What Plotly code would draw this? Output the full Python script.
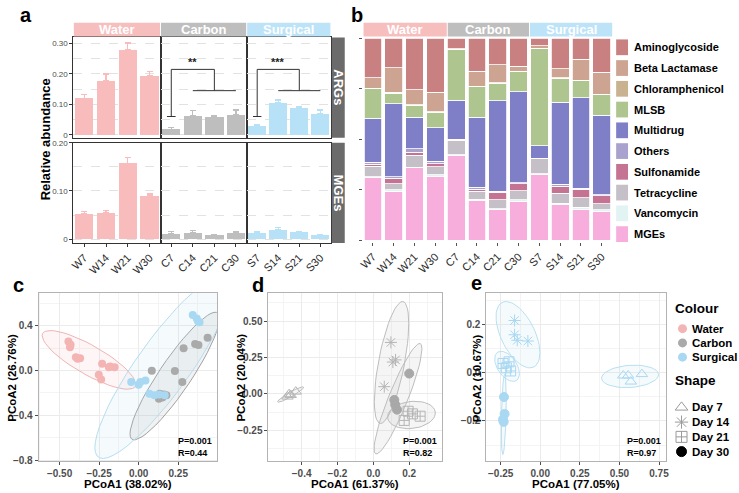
import numpy as np
import plotly.graph_objects as go

W, H = 739, 493
FONT = "Liberation Sans, Arial, sans-serif"

# ---- panel a: relative abundance (mean, upper error) ----
GROUPS = ["Water", "Carbon", "Surgical"]
SAMPLES = {
    "Water": ["W7", "W14", "W21", "W30"],
    "Carbon": ["C7", "C14", "C21", "C30"],
    "Surgical": ["S7", "S14", "S21", "S30"],
}
ARGS_MEAN = {
    "Water": [0.120, 0.178, 0.280, 0.193],
    "Carbon": [0.018, 0.062, 0.060, 0.066],
    "Surgical": [0.030, 0.104, 0.088, 0.068],
}
ARGS_ERR = {
    "Water": [0.013, 0.022, 0.022, 0.015],
    "Carbon": [0.005, 0.017, 0.004, 0.015],
    "Surgical": [0.003, 0.010, 0.005, 0.013],
}
MGES_MEAN = {
    "Water": [0.052, 0.055, 0.157, 0.090],
    "Carbon": [0.011, 0.013, 0.008, 0.013],
    "Surgical": [0.013, 0.020, 0.014, 0.008],
}
MGES_ERR = {
    "Water": [0.005, 0.005, 0.013, 0.004],
    "Carbon": [0.005, 0.005, 0.002, 0.003],
    "Surgical": [0.002, 0.004, 0.002, 0.002],
}
GROUP_COLORS = {"Water": "#F8BCBC", "Carbon": "#BEBEBE", "Surgical": "#B6E1F7"}
STRIP_COLORS = {"Water": "#F7BEBE", "Carbon": "#BEBEBE", "Surgical": "#BDE3F8"}

# ---- panel b: composition (stack order bottom -> top) ----
ALL_SAMPLES = SAMPLES["Water"] + SAMPLES["Carbon"] + SAMPLES["Surgical"]
MGES = [.309, .241, .358, .317, .420, .198, .150, .192, .325, .176, .154, .141]
VANCOMYCIN = [.005, .008, .004, .006, .003, .005, .005, .008, .003, .006, .009, .009]
TETRACYCLINE = [.052, .031, .058, .040, .073, .038, .045, .044, .075, .049, .048, .029]
SULFONAMIDE = [.011, .026, .016, .016, .002, .011, .036, .036, .002, .037, .041, .041]
OTHERS = [.010, .008, .016, .011, .002, .011, .005, .005, .002, .008, .005, .004]
MULTIDRUG = [.218, .361, .158, .168, .194, .347, .450, .450, .061, .407, .450, .394]
MLSB = [.146, .054, .059, .076, .250, .151, .086, .100, .481, .120, .083, .104]
CHLORAMPHENICOL = [.003, .003, .003, .003, .002, .003, .003, .002, .002, .002, .002, .002]
BETA_LACTAMASE = [.051, .122, .073, .095, .002, .073, .090, .025, .012, .044, .106, .109]
AMINOGLYCOSIDE = [.195, .146, .255, .268, .052, .163, .130, .138, .037, .151, .102, .167]
CLASSES = [
    ("MGEs", MGES, "#F7AEDC"),
    ("Vancomycin", VANCOMYCIN, "#E2F3F3"),
    ("Tetracycline", TETRACYCLINE, "#C5C0C8"),
    ("Sulfonamide", SULFONAMIDE, "#C57393"),
    ("Others", OTHERS, "#A9A2CF"),
    ("Multidrug", MULTIDRUG, "#7F7FC8"),
    ("MLSB", MLSB, "#AFC58F"),
    ("Chloramphenicol", CHLORAMPHENICOL, "#C9B28F"),
    ("Beta Lactamase", BETA_LACTAMASE, "#CDA391"),
    ("Aminoglycoside", AMINOGLYCOSIDE, "#C98080"),
]

# ---- panel c: PCoA all groups ----
PC_C = {
    "Water": ([-0.444, -0.434, -0.430, -0.397, -0.370, -0.386, -0.231, -0.252, -0.237, -0.188, -0.152, -0.180],
              [0.258, 0.208, 0.230, 0.119, 0.110, 0.104, 0.060, -0.038, -0.080, 0.030, 0.030, 0.035]),
    "Carbon": ([0.083, 0.284, 0.357, 0.378, 0.436, 0.229, 0.276, 0.133, 0.175, 0.128, 0.150, 0.160],
               [-0.003, 0.199, 0.237, 0.228, 0.293, -0.005, -0.103, -0.207, -0.222, -0.252, -0.240, -0.215]),
    "Surgical": ([0.342, 0.367, 0.385, 0.375, -0.047, 0.000, 0.011, 0.043, 0.068, 0.100, 0.130, 0.165],
                 [0.495, 0.465, 0.430, 0.440, -0.103, -0.127, -0.103, -0.089, -0.207, -0.222, -0.215, -0.222]),
}
PCOA_COLORS = {"Water": "#F4B4B4", "Carbon": "#AAAAAA", "Surgical": "#A9D8F2"}
ELL_LINE = {"Water": "#F0B4B4", "Carbon": "#A0A0A0", "Surgical": "#B5DDF0"}
ELL_FILL = {"Water": "rgba(244,180,180,0.12)", "Carbon": "rgba(170,170,170,0.15)",
            "Surgical": "rgba(169,216,242,0.12)"}

# ---- panels d, e: PCoA by day ----
DAYS = ["Day 7", "Day 14", "Day 21", "Day 30"]
DAY_SYMBOLS = ["triangle-up-open", "asterisk-open", "square-cross-open", "circle"]
PC_D = {
    "Day 7": ([-0.479, -0.461, -0.433, -0.470], [-0.018, -0.007, 0.016, -0.002]),
    "Day 14": ([0.098, 0.109, 0.124, 0.061], [0.354, 0.219, 0.234, 0.050]),
    "Day 21": ([0.172, 0.194, 0.218, 0.261], [-0.182, -0.119, -0.137, -0.153]),
    "Day 30": ([0.200, 0.117, 0.122, 0.132], [0.140, -0.041, -0.074, -0.108]),
}
PC_E = {
    "Day 7": ([0.524, 0.555, 0.572, 0.642], [-0.012, -0.012, -0.037, -0.006]),
    "Day 14": ([-0.162, -0.162, -0.145, -0.078], [0.216, 0.157, 0.134, 0.131]),
    "Day 21": ([-0.235, -0.214, -0.197, -0.187], [0.038, 0.020, 0.045, 0.007]),
    "Day 30": ([-0.229, -0.225, -0.235, -0.231], [-0.101, -0.171, -0.194, -0.204]),
}
STATS = {"c": ("0.001", "0.44"), "d": ("0.001", "0.82"), "e": ("0.001", "0.97")}
TITLES = {
    "c": ("PCoA1 (38.02%)", "PCoA2 (26.76%)"),
    "d": ("PCoA1 (61.37%)", "PCoA2 (20.04%)"),
    "e": ("PCoA1 (77.05%)", "PCoA2 (10.67%)"),
}


def xdom(a, b):
    return [a / W, b / W]


def ydom(top, bottom):
    return [1 - bottom / H, 1 - top / H]


def px(x):
    return x / W


def py(y):
    return 1 - y / H


def ann(x, y, text, size, color="black", bold=True, xanchor="center", yanchor="middle", **kw):
    # pixel-positioned paper annotation
    return dict(x=px(x), y=py(y), xref="paper", yref="paper", text=text, showarrow=False,
                xanchor=xanchor, yanchor=yanchor,
                font=dict(size=size, color=color, weight="bold" if bold else "normal"), **kw)


def t_ellipse(x, y, level=0.95, segments=51, nu=5):
    # robust t covariance (as MASS::cov.trob) then ggplot-style ellipse
    pts = np.column_stack([x, y]).astype(float)
    n, p = pts.shape
    loc = pts.mean(axis=0)
    w = np.ones(n)
    X = pts - loc
    for _ in range(25):
        w0 = w
        X = pts - loc
        _, d, vt = np.linalg.svd(np.sqrt(w / w.sum())[:, None] * X, full_matrices=False)
        wX = X @ vt.T / d
        Q = (wX ** 2).sum(axis=1)
        w = (nu + p) / (nu + Q)
        loc = (w[:, None] * pts).sum(axis=0) / w.sum()
        if np.all(np.abs(w - w0) < 0.01):
            break
    sw = np.sqrt(w)[:, None] * X
    cov = sw.T @ sw / n
    dfd = n - 1
    q = (dfd / 2) * ((1 - level) ** (-2 / dfd) - 1)
    radius = np.sqrt(2 * q)
    R = np.linalg.cholesky(cov).T
    t = np.linspace(0, 2 * np.pi, segments)
    circle = np.column_stack([np.cos(t), np.sin(t)])
    ell = loc + radius * circle @ R
    return ell[:, 0], ell[:, 1]


fig = go.Figure()
layout = dict(
    width=W, height=H, margin=dict(l=0, r=0, t=0, b=0, pad=0),
    paper_bgcolor="white", plot_bgcolor="rgba(0,0,0,0)", showlegend=False,
    barmode="stack", bargap=0.15, font=dict(family=FONT, color="black"),
)
shapes, annotations = [], []


def key(kind, i):
    return kind + ("" if i == 1 else str(i))


# ---------------- panel a ----------------
A_X = {"Water": (70, 158), "Carbon": (158, 245), "Surgical": (245, 330)}
A_ROWS = [
    ("ARGs", ARGS_MEAN, ARGS_ERR, (34, 136), [-0.010, 0.320], [0, 0.1, 0.2, 0.3],
     ["0", "0.10", "0.20", "0.30"], [0.05, 0.15, 0.25]),
    ("MGEs", MGES_MEAN, MGES_ERR, (141, 243), [-0.008, 0.200], [0, 0.1, 0.2],
     ["0", "0.10", "0.20"], [0.05, 0.15]),
]
for r, (row, means, errs, ypx, yr, tv, tt, minor) in enumerate(A_ROWS):
    for i, g in enumerate(GROUPS):
        idx = 1 + i + 3 * r
        fig.add_trace(go.Bar(
            x=SAMPLES[g], y=means[g], marker=dict(color=GROUP_COLORS[g], line=dict(width=0)),
            error_y=dict(type="data", array=errs[g], arrayminus=[0] * 4, symmetric=False,
                         color=GROUP_COLORS[g], thickness=1.3, width=3),
            xaxis=key("x", idx), yaxis=key("y", idx),
        ))
        layout[key("xaxis", idx)] = dict(
            domain=xdom(*A_X[g]), anchor=key("y", idx), type="category",
            showline=True, mirror=True, linecolor="#333333", linewidth=1, showgrid=False,
            ticks="outside" if r == 1 else "", ticklen=3, tickcolor="#333333",
            showticklabels=(r == 1), tickangle=-45, tickfont=dict(size=11, color="#2a2a2a"),
        )
        layout[key("yaxis", idx)] = dict(
            domain=ydom(*ypx), anchor=key("x", idx), range=yr,
            showline=True, mirror=True, linecolor="#333333", linewidth=1,
            tickvals=tv, ticktext=tt, showticklabels=(i == 0),
            ticks="outside" if i == 0 else "", ticklen=3, tickcolor="#333333",
            tickfont=dict(size=8, color="#4D4D4D"),
            showgrid=True, gridcolor="#E2E2E2", griddash="dash", gridwidth=0.8, zeroline=False,
            minor=dict(tickvals=minor, showgrid=True, gridcolor="#E2E2E2", griddash="dash", ticklen=0),
        )
    # right strip
    shapes.append(dict(type="rect", xref="paper", yref="paper", x0=px(331), x1=px(344),
                       y0=py(ypx[1]), y1=py(ypx[0]), fillcolor="#6B6B6B", line=dict(width=0)))
    annotations.append(ann(337.5, (ypx[0] + ypx[1]) / 2, row, 13, color="white", textangle=90))

for g in GROUPS:
    x0, x1 = A_X[g]
    shapes.append(dict(type="rect", xref="paper", yref="paper", x0=px(x0 + 0.5), x1=px(x1 - 0.5),
                       y0=py(33), y1=py(19), fillcolor=STRIP_COLORS[g], line=dict(width=0)))
    annotations.append(ann((x0 + x1) / 2, 26, g, 13, color="white"))

# significance brackets (Carbon: x2/y2, Surgical: x3/y3)
for idx, stars in [(2, "**"), (3, "***")]:
    xr, yr = key("x", idx), key("y", idx)
    for (xa, ya, xb, yb) in [(-0.2, 0.06, 0.2, 0.06), (0, 0.06, 0, 0.215), (0, 0.215, 2, 0.215),
                             (2, 0.215, 2, 0.145), (1, 0.145, 3, 0.145)]:
        shapes.append(dict(type="line", xref=xr, yref=yr, x0=xa, y0=ya, x1=xb, y1=yb,
                           line=dict(color="#333333", width=1)))
    annotations.append(dict(x=1, y=0.213, xref=xr, yref=yr, text=stars, showarrow=False,
                            xanchor="center", yanchor="bottom",
                            font=dict(size=11, color="#222222", weight="bold")))

annotations.append(ann(42, 138, "Relative abundance", 13, textangle=-90))

# ---------------- panel b ----------------
for name, vals, col in CLASSES:
    fig.add_trace(go.Bar(x=ALL_SAMPLES, y=vals, name=name,
                         marker=dict(color=col, line=dict(color="white", width=0.8)),
                         xaxis="x7", yaxis="y7"))
layout["xaxis7"] = dict(domain=xdom(362, 614), anchor="y7", type="category", showline=False,
                        ticks="outside", ticklen=3, tickcolor="#555555", tickangle=-45,
                        tickfont=dict(size=11, color="#2a2a2a"), showgrid=False)
layout["yaxis7"] = dict(domain=ydom(34, 242), anchor="x7", range=[-0.01, 1.005], showline=False,
                        showgrid=False, zeroline=False, showticklabels=False, ticks="outside",
                        ticklen=3, tickcolor="#555555", tickvals=[0, 0.25, 0.5, 0.75, 1])
b_strips = [(363, 447), (448, 530), (531, 614)]
for g, (x0, x1) in zip(GROUPS, b_strips):
    shapes.append(dict(type="rect", xref="paper", yref="paper", x0=px(x0), x1=px(x1),
                       y0=py(33), y1=py(19), fillcolor=STRIP_COLORS[g], line=dict(width=0)))
    annotations.append(ann((x0 + x1) / 2, 26, g, 13, color="white"))
for k, (name, vals, col) in enumerate(reversed(CLASSES)):
    yc = 44 + k * 21.1
    shapes.append(dict(type="rect", xref="paper", yref="paper", x0=px(618), x1=px(630),
                       y0=py(yc + 8), y1=py(yc - 8), fillcolor=col, line=dict(width=0)))
    annotations.append(ann(634, yc, name, 11, xanchor="left"))

# ---------------- panels c, d, e ----------------
TICKFONT = dict(size=10, color="#4D4D4D", weight="bold")


def pcoa_axes(idx, xd, yd, xr, yr, xdt, ydt, xfmt, yfmt):
    common = dict(showline=True, mirror=True, linecolor="#B3B3B3", linewidth=1, showgrid=True,
                  gridcolor="#EBEBEB", gridwidth=0.8, zeroline=False, ticks="outside", ticklen=3,
                  tickcolor="#4D4D4D", tickfont=TICKFONT)
    layout[key("xaxis", idx)] = dict(
        domain=xd, anchor=key("y", idx), range=xr, dtick=xdt, tick0=0, tickformat=xfmt,
        minor=dict(dtick=xdt / 2, tick0=0, showgrid=True, gridcolor="#F4F4F4", gridwidth=0.6),
        **common)
    layout[key("yaxis", idx)] = dict(
        domain=yd, anchor=key("x", idx), range=yr, dtick=ydt, tick0=0, tickformat=yfmt,
        minor=dict(dtick=ydt / 2, tick0=0, showgrid=True, gridcolor="#F4F4F4", gridwidth=0.6),
        **common)


PC_X = {"c": (35, 215), "d": (267, 442), "e": (487, 668)}
pcoa_axes(8, xdom(*PC_X["c"]), ydom(294, 465), [-0.632, 0.495], [-0.812, 0.69], 0.25, 0.4, ".2f", ".1f")
pcoa_axes(9, xdom(*PC_X["d"]), ydom(294, 465), [-0.585, 0.382], [-0.464, 0.692], 0.2, 0.25, ".1f", ".2f")
pcoa_axes(10, xdom(*PC_X["e"]), ydom(294, 465), [-0.34, 0.792], [-0.368, 0.329], 0.25, 0.2, ".2f", ".1f")
Y_TITLE_X = {"c": 8, "d": 239, "e": 477}
for p in ["c", "d", "e"]:
    x0, x1 = PC_X[p]
    annotations.append(ann((x0 + x1) / 2, 487.5, TITLES[p][0], 11.5))
    annotations.append(ann(Y_TITLE_X[p], 380, TITLES[p][1], 11.5, textangle=-90))

for g in GROUPS:
    ex, ey = t_ellipse(*PC_C[g])
    fig.add_trace(go.Scatter(x=ex, y=ey, mode="lines", fill="toself", fillcolor=ELL_FILL[g],
                             line=dict(color=ELL_LINE[g], width=1), xaxis="x8", yaxis="y8"))
for g in GROUPS:
    fig.add_trace(go.Scatter(x=PC_C[g][0], y=PC_C[g][1], mode="markers",
                             marker=dict(color=PCOA_COLORS[g], size=8), xaxis="x8", yaxis="y8"))


def day_panel(data, idx, line_col, fill_col, mark_col, fill_mark):
    for d in DAYS:
        ex, ey = t_ellipse(*data[d])
        fig.add_trace(go.Scatter(x=ex, y=ey, mode="lines", fill="toself", fillcolor=fill_col,
                                 line=dict(color=line_col, width=1),
                                 xaxis=key("x", idx), yaxis=key("y", idx)))
    for d, sym in zip(DAYS, DAY_SYMBOLS):
        col = fill_mark if sym == "circle" else mark_col
        fig.add_trace(go.Scatter(x=data[d][0], y=data[d][1], mode="markers",
                                 marker=dict(symbol=sym, color=col, size=9 if sym == "circle" else 10,
                                             line=dict(color=col, width=1)),
                                 xaxis=key("x", idx), yaxis=key("y", idx)))


day_panel(PC_D, 9, "#BDBDBD", "rgba(190,190,190,0.15)", "#B5B5B5", "#A8A8A8")
day_panel(PC_E, 10, "#B8E0F2", "rgba(169,216,242,0.12)", "#A9D8F2", "#A9D8F2")

for idx, p in zip([8, 9, 10], ["c", "d", "e"]):
    pv, rv = STATS[p]
    annotations.append(dict(x=0.985, y=0.01, xref=key("x", idx) + " domain", yref=key("y", idx) + " domain",
                            text=f"P={pv}<br>R={rv}", showarrow=False, xanchor="right", yanchor="bottom",
                            align="left", font=dict(size=9, weight="bold")))

# legend for c-e (small helper axis in pixel units, right of panel e)
LEG_X, LEG_Y = (672, 739), (300, 470)
layout["xaxis11"] = dict(domain=xdom(*LEG_X), range=list(LEG_X), visible=False, fixedrange=True, anchor="y11")
layout["yaxis11"] = dict(domain=ydom(*LEG_Y), range=[LEG_Y[1], LEG_Y[0]], visible=False, fixedrange=True,
                         anchor="x11")
annotations.append(ann(675, 310, "Colour", 13.5, xanchor="left"))
annotations.append(ann(675, 383, "Shape", 13.5, xanchor="left"))
for k, g in enumerate(GROUPS):
    yc = 330 + k * 14.5
    fig.add_trace(go.Scatter(x=[685], y=[yc], mode="markers", marker=dict(color=PCOA_COLORS[g], size=9),
                             xaxis="x11", yaxis="y11"))
    annotations.append(ann(693, yc, g, 11.5, xanchor="left"))
for k, (d, sym) in enumerate(zip(DAYS, DAY_SYMBOLS)):
    yc = 410 + k * 15
    col = "black" if sym == "circle" else "#9A9A9A"
    fig.add_trace(go.Scatter(x=[684], y=[yc], mode="markers",
                             marker=dict(symbol=sym, color=col, size=11 if sym != "circle" else 10,
                                         line=dict(color=col, width=1)),
                             xaxis="x11", yaxis="y11"))
    annotations.append(ann(693, yc, d, 11.5, xanchor="left"))

# panel letters
for letter, (lx, ly) in {"a": (22, 11), "b": (356, 11), "c": (15, 286), "d": (256, 286),
                         "e": (477, 284)}.items():
    annotations.append(ann(lx, ly, letter, 20))

layout["shapes"] = shapes
layout["annotations"] = annotations
fig.update_layout(**layout)
fig.write_html("out.html", config={"displayModeBar": False},
               post_script="document.body.style.margin='0';")
